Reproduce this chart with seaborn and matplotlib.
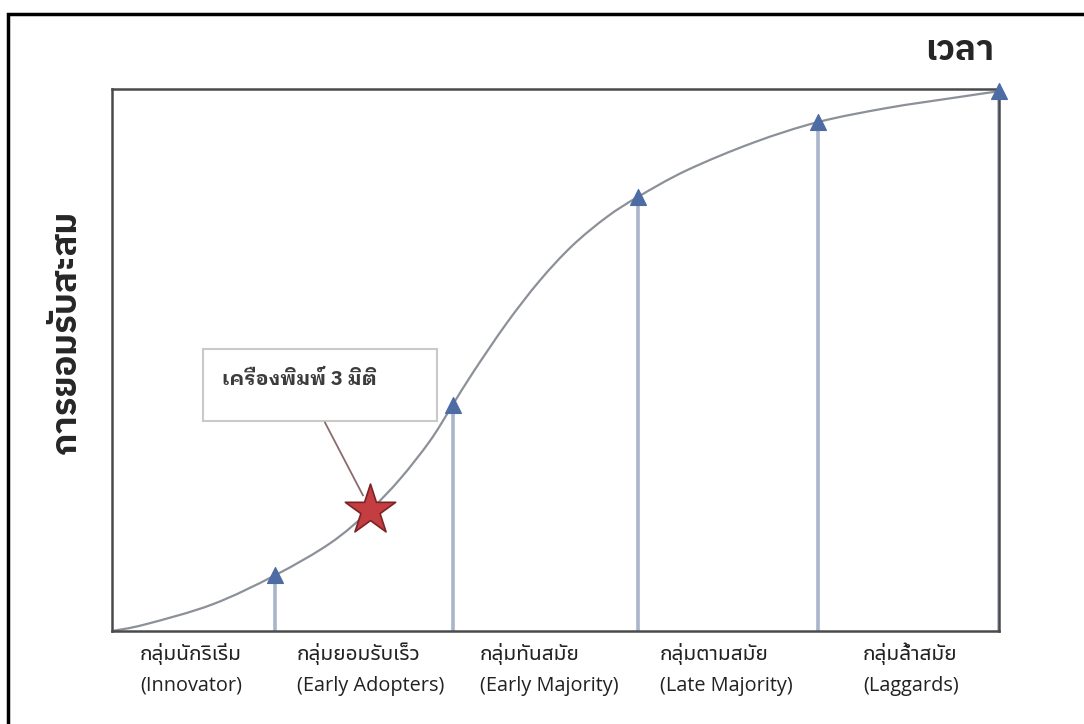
import matplotlib
matplotlib.use("Agg")
import matplotlib.pyplot as plt
import matplotlib.patches as mpatches
from matplotlib.path import Path
import seaborn as sns

# Cumulative adoption curve (time %, cumulative adoption %)
curve_x = [0, 3.7, 11.3, 18.4, 24.6, 29.1, 32.5, 35.9, 38.4, 40.7, 44.5, 48.2,
           51.9, 55.8, 59.3, 64.8, 72.3, 79.6, 87.4, 94.8, 100]
curve_y = [0, 1.2, 4.9, 10.3, 16.2, 22.3, 28.1, 35.2, 41.7, 47.7, 56.8, 64.6,
           71.1, 76.4, 80.1, 85.0, 90.1, 93.9, 96.5, 98.35, 99.6]

# Boundaries of the adopter groups on the curve
stage_x = [18.4, 38.4, 59.3, 79.6, 100]
stage_y = [10.3, 41.7, 80.1, 93.9, 99.6]

# Position of the highlighted technology
star_x = [29.1]
star_y = [22.3]
star_label = "เครื่องพิมพ์ 3 มิติ"

group_th = ["กลุ่มนักริเริ่ม", "กลุ่มยอมรับเร็ว", "กลุ่มทันสมัย", "กลุ่มตามสมัย", "กลุ่มล้ำสมัย"]
group_en = ["(Innovator)", "(Early Adopters)", "(Early Majority)", "(Late Majority)", "(Laggards)"]
y_title = "การยอมรับสะสม"
x_title = "เวลา"

sns.set_theme(style="white")
plt.rcParams['font.family'] = ["Noto Sans Thai UI", "Open Sans", "DejaVu Sans"]
TITLE_FONT = ["IBM Plex Sans Thai", "DejaVu Sans"]
LOOPED_FONT = ["IBM Plex Sans Thai Looped", "DejaVu Sans"]

W, H = 1084, 724
fig = plt.figure(figsize=(W / 100, H / 100), dpi=100)
ax = fig.add_axes([112 / W, 1 - 631 / H, (999 - 112) / W, (631 - 89) / H])
ax.set_xlim(0, 100)
ax.set_ylim(0, 100)


def smooth_path(xs, ys):
    """Cubic Bezier path passing through every (x, y) point (Catmull-Rom tangents)."""
    pts = list(zip(xs, ys))
    verts = [pts[0]]
    codes = [Path.MOVETO]
    n = len(pts)
    for i in range(n - 1):
        p0 = pts[max(i - 1, 0)]
        p1 = pts[i]
        p2 = pts[i + 1]
        p3 = pts[min(i + 2, n - 1)]
        c1 = (p1[0] + (p2[0] - p0[0]) / 6, p1[1] + (p2[1] - p0[1]) / 6)
        c2 = (p2[0] - (p3[0] - p1[0]) / 6, p2[1] - (p3[1] - p1[1]) / 6)
        verts += [c1, c2, p2]
        codes += [Path.CURVE4] * 3
    return Path(verts, codes)


# upright stage arrows
ax.vlines(stage_x, 0, stage_y, color="#a9b5c9", lw=2.6, zorder=1)
ax.add_patch(mpatches.PathPatch(smooth_path(curve_x, curve_y), fill=False,
                                ec="#8c9098", lw=1.6, zorder=2, transform=ax.transData))
sns.scatterplot(x=stage_x, y=stage_y, ax=ax, marker="^", s=130, color="#4d6ca3",
                edgecolor="#4d6ca3", zorder=3, clip_on=False)

# callout box and pointer
ax.add_patch(mpatches.Rectangle((10.3, 38.7), 26.3, 13.3, fc="white", ec="#c9c9c9",
                                lw=1.5, zorder=2))
ax.text(12.4, 46.4, star_label, family=LOOPED_FONT, fontsize=14.5, fontweight="bold",
        color="#3c3c3c", ha="left", va="center", zorder=3)
ax.plot([24.0, 28.3], [38.5, 25.0], color="#8a6c6c", lw=1.3, zorder=3)

sns.scatterplot(x=star_x, y=star_y, ax=ax, marker="*", s=1450, color="#c43d40",
                edgecolor="#7d2224", linewidth=1.2, zorder=4, clip_on=False)

ax.set_xticks([])
ax.set_yticks([])
ax.set_xlabel("")
ax.set_ylabel("")
for s in ax.spines.values():
    s.set_color("#4a4a4a")
    s.set_linewidth(1.8)

# group labels under the axis
left_px = [140, 297, 480, 660, 863]
for lx, th, en in zip(left_px, group_th, group_en):
    fig.text(lx / W, 1 - 654 / H, th, fontsize=15, ha="left", va="center", color="#222222")
    fig.text(lx / W, 1 - 686 / H, en, fontsize=14.3, ha="left", va="center", color="#222222")

fig.text(960 / W, 1 - 50 / H, x_title, family=TITLE_FONT, fontsize=25, fontweight="bold",
         ha="center", va="center")
fig.text(66 / W, 1 - 332 / H, y_title, family=TITLE_FONT, fontsize=25, fontweight="bold",
         rotation=90, ha="center", va="center")

# outer frame
fig.patches.append(mpatches.Rectangle((8 / W, -0.2), 1.5, 1.2 - 14 / H,
                                      transform=fig.transFigure, fill=False,
                                      ec="black", lw=2.5))

fig.savefig("out.png", dpi=100)
